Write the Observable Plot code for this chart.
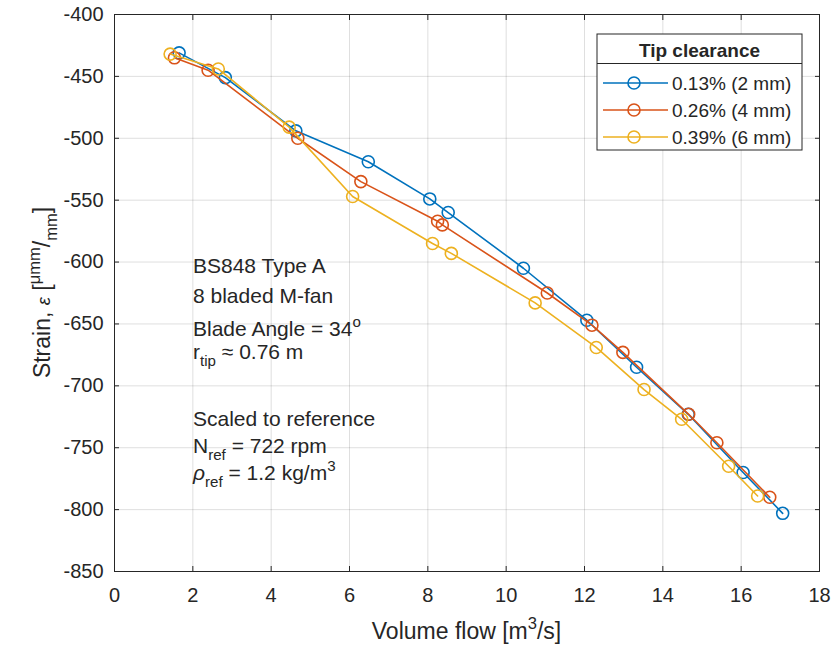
<!DOCTYPE html>
<html><head><meta charset="utf-8">
<script src="https://cdn.jsdelivr.net/npm/d3@7"></script>
<script src="https://cdn.jsdelivr.net/npm/@observablehq/plot@0.6"></script>
<style>
body{margin:0;background:#fff}
svg{font-family:"Liberation Sans",Arial,Helvetica,sans-serif}
</style>
</head><body><div id="chart"></div>
<script>
// ---- data ----
const seriesNames = ["0.13% (2 mm)", "0.26% (4 mm)", "0.39% (6 mm)"];
const seriesColors = ["#0072BD", "#D95319", "#EDB120"];
const flow13   = [1.65, 2.83, 4.63, 6.48, 8.05, 8.52, 10.44, 12.06, 13.33, 14.65, 16.05, 17.06];
const strain13 = [-431, -451, -494, -519, -549, -560, -605, -647, -685, -723, -770, -803];
const flow26   = [1.53, 2.39, 4.68, 6.29, 8.25, 8.37, 11.05, 12.19, 12.98, 14.66, 15.38, 16.73];
const strain26 = [-435, -445, -500, -535, -567, -570, -625, -651, -673, -723, -746, -790];
const flow39   = [1.42, 2.65, 4.46, 6.08, 8.12, 8.60, 10.74, 12.30, 13.52, 14.48, 15.68, 16.42];
const strain39 = [-432, -444, -491, -547, -585, -593, -633, -669, -703, -727, -765, -789];
const xTicks = [0, 2, 4, 6, 8, 10, 12, 14, 16, 18];
const yTicks = [-850, -800, -750, -700, -650, -600, -550, -500, -450, -400];
const legendTitle = "Tip clearance";
const xLabel = [{t: "Volume flow [m"}, {t: "3", s: "sup"}, {t: "/s]"}];
const yLabel = [{t: "Strain, "}, {t: "ε", it: true, small: true}, {t: " ["}, {t: "μmm", s: "sup"}, {t: "/"}, {t: "mm", s: "sub"}, {t: "]"}];
const noteLines = [
  [{t: "BS848 Type A"}],
  [{t: "8 bladed M-fan"}],
  [{t: "Blade Angle = 34"}, {t: "o", s: "sup"}],
  [{t: "r"}, {t: "tip", s: "sub"}, {t: " ≈ 0.76 m"}],
  [{t: "Scaled to reference"}],
  [{t: "N"}, {t: "ref", s: "sub"}, {t: " = 722 rpm"}],
  [{t: "ρ", it: true}, {t: "ref", s: "sub"}, {t: " = 1.2 kg/m"}, {t: "3", s: "sup"}]
];

(function () {
const allFlows = [flow13, flow26, flow39];
const allStrains = [strain13, strain26, strain39];
const series = seriesNames.map((name, i) =>
  allFlows[i].map((f, j) => ({series: name, flow: f, strain: allStrains[i][j]})));

const ink = "#262626";
const dataMarks = series.flatMap((rows, i) => [
  Plot.line(rows, {x: "flow", y: "strain", stroke: seriesColors[i], strokeWidth: 1.6}),
  Plot.dot(rows, {x: "flow", y: "strain", stroke: seriesColors[i], r: 6, strokeWidth: 1.6, fill: "none"})
]);

const plot = Plot.plot({
  width: 834, height: 649,
  marginLeft: 114, marginRight: 15, marginTop: 14, marginBottom: 78,
  style: {fontFamily: '"Liberation Sans", Arial, sans-serif', fontSize: "19px", color: ink, background: "#fff"},
  x: {domain: [0, 18]},
  y: {domain: [-850, -400]},
  marks: [
    Plot.gridX(xTicks, {stroke: ink, strokeOpacity: 0.15}),
    Plot.gridY(yTicks, {stroke: ink, strokeOpacity: 0.15}),
    Plot.axisX(xTicks, {anchor: "bottom", tickSize: 0, tickPadding: 16, label: null, tickFormat: d => String(d), fontSize: 20, fill: ink}),
    Plot.axisY(yTicks, {anchor: "left", tickSize: 0, tickPadding: 11, label: null, tickFormat: d => String(d), fontSize: 20, fill: ink}),
    Plot.axisX(xTicks, {anchor: "bottom", tickSize: 5, dy: -5, tickFormat: () => "", label: null, stroke: ink}),
    Plot.axisX(xTicks, {anchor: "top", tickSize: 5, dy: 5, tickFormat: () => "", label: null, stroke: ink}),
    Plot.axisY(yTicks, {anchor: "left", tickSize: 5, dx: 5, tickFormat: () => "", label: null, stroke: ink}),
    Plot.axisY(yTicks, {anchor: "right", tickSize: 5, dx: -5, tickFormat: () => "", label: null, stroke: ink}),
    ...dataMarks,
    Plot.frame({stroke: ink, strokeWidth: 1})
  ]
});
document.getElementById("chart").append(plot);

function rich(parent, x, y, segs, fs, anchor = "start") {
  const t = parent.append("text").attr("x", x).attr("y", y).attr("font-size", fs)
    .attr("fill", ink).attr("text-anchor", anchor);
  let cur = 0;
  for (const s of segs) {
    const off = s.s === "sup" ? -0.42 * fs : s.s === "sub" ? 0.32 * fs : 0;
    const sp = t.append("tspan").attr("dy", off - cur)
      .attr("font-size", s.s ? fs * 0.72 : (s.small ? fs * 0.8 : fs)).text(s.t);
    if (s.it) sp.attr("font-style", "italic");
    cur = off;
  }
  return t;
}

const svg = d3.select(plot);
const sx = plot.scale("x"), sy = plot.scale("y");
const pLeft = sx.apply(0), pRight = sx.apply(18), pTop = sy.apply(-400), pBottom = sy.apply(-850);

rich(svg, (pLeft + pRight) / 2, 639, xLabel, 23, "middle");
const yl = svg.append("g").attr("transform", `translate(50,${(pTop + pBottom) / 2}) rotate(-90)`);
rich(yl, 0, 0, yLabel, 23, "middle");

const noteX = 193;
const noteY = [273, 303, 336, 359, 426, 453, 480];
noteLines.forEach((segs, i) => rich(svg, noteX, noteY[i], segs, 21));

const lg = svg.append("g");
const lx = 597, ly = 34, lw = 205, lh = 116;
lg.append("rect").attr("x", lx).attr("y", ly).attr("width", lw).attr("height", lh)
  .attr("fill", "#fff").attr("stroke", ink).attr("stroke-width", 1);
lg.append("line").attr("x1", lx).attr("x2", lx + lw).attr("y1", 63.5).attr("y2", 63.5)
  .attr("stroke", ink).attr("stroke-width", 1);
lg.append("text").attr("x", lx + lw / 2).attr("y", 57).attr("text-anchor", "middle")
  .attr("font-weight", "bold").attr("font-size", 19).attr("fill", ink).text(legendTitle);
const rowY = [83, 110, 137];
seriesNames.forEach((name, i) => {
  const y = rowY[i];
  lg.append("line").attr("x1", 603).attr("x2", 668).attr("y1", y).attr("y2", y)
    .attr("stroke", seriesColors[i]).attr("stroke-width", 1.6);
  lg.append("circle").attr("cx", 634).attr("cy", y).attr("r", 6)
    .attr("fill", "none").attr("stroke", seriesColors[i]).attr("stroke-width", 1.6);
  lg.append("text").attr("x", 672).attr("y", y + 7).attr("text-anchor", "start")
    .attr("font-size", 19).attr("fill", ink).text(name);
});
})();
</script>
</body></html>
